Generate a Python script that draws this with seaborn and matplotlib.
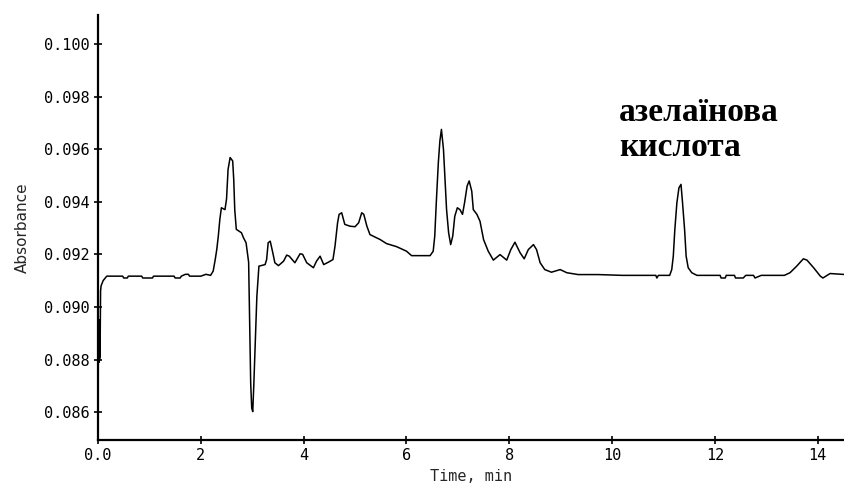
import numpy as np
import pandas as pd
import seaborn as sns
import matplotlib
matplotlib.use("Agg")
import matplotlib.pyplot as plt

time_min = [
    0.0, 0.008, 0.012, 0.016, 0.02, 0.025, 0.03, 0.035, 0.04, 0.05, 0.06, 0.10, 0.17,
    0.30, 0.48, 0.50, 0.57, 0.59, 0.85, 0.87, 1.06, 1.08, 1.48, 1.50, 1.60, 1.62,
    1.70, 1.76, 1.78, 2.0, 2.10, 2.19, 2.24, 2.28, 2.31, 2.34, 2.37, 2.40, 2.47,
    2.50, 2.53, 2.57, 2.62, 2.64, 2.66, 2.69, 2.79, 2.83, 2.88, 2.91, 2.93, 2.95,
    2.97, 2.99, 3.01, 3.03, 3.05, 3.09, 3.13, 3.25, 3.28, 3.31, 3.35, 3.40, 3.44,
    3.51, 3.61, 3.67, 3.72, 3.83, 3.93, 3.98, 4.06, 4.19, 4.25, 4.32, 4.39, 4.48,
    4.57, 4.61, 4.66, 4.69, 4.74, 4.80, 4.90, 5.00, 5.07, 5.13, 5.17, 5.23, 5.29,
    5.49, 5.61, 5.81, 6.00, 6.10, 6.46, 6.52, 6.55, 6.58, 6.62, 6.65, 6.68, 6.72,
    6.75, 6.78, 6.82, 6.86, 6.90, 6.94, 6.99, 7.04, 7.09, 7.13, 7.18, 7.22, 7.27,
    7.30, 7.37, 7.43, 7.50, 7.59, 7.69, 7.82, 7.95, 8.03, 8.11, 8.21, 8.29, 8.37,
    8.47, 8.53, 8.60, 8.69, 8.82, 8.99, 9.12, 9.34, 9.73, 10.2, 10.85, 10.87, 10.90,
    11.12, 11.16, 11.19, 11.22, 11.26, 11.30, 11.34, 11.37, 11.41, 11.44, 11.48, 11.55,
    11.65, 12.10, 12.12, 12.20, 12.22, 12.38, 12.40, 12.55, 12.60, 12.75, 12.78,
    12.90, 13.35, 13.46, 13.59, 13.72, 13.79, 13.92, 14.05, 14.10, 14.24, 14.55,
]
absorbance = [
    0.0849, 0.0895, 0.0879, 0.0895, 0.0879, 0.0895, 0.0880, 0.0895, 0.0881, 0.0906, 0.0908, 0.0910, 0.09117,
    0.09117, 0.09117, 0.09110, 0.09110, 0.09117, 0.09117, 0.09110, 0.09110, 0.09117, 0.09117, 0.09110, 0.09110, 0.09117,
    0.09124, 0.09124, 0.09117, 0.09117, 0.09124, 0.09120, 0.09136, 0.09180, 0.09218, 0.09269, 0.09333, 0.09377, 0.09370,
    0.09410, 0.09523, 0.09568, 0.09555, 0.09485, 0.09370, 0.09295, 0.09282, 0.09263, 0.09244, 0.09200, 0.09170, 0.08930,
    0.08710, 0.08615, 0.08602, 0.08700, 0.08810, 0.09040, 0.09155, 0.09161, 0.09180, 0.09244, 0.09250, 0.09206, 0.09168,
    0.09157, 0.09174, 0.09197, 0.09193, 0.09168, 0.09202, 0.09200, 0.09168, 0.09149, 0.09174, 0.09193, 0.09161, 0.09170,
    0.09180, 0.09231, 0.09320, 0.09352, 0.09358, 0.09314, 0.09307, 0.09305, 0.09320, 0.09358, 0.09352, 0.09307, 0.09275,
    0.09256, 0.09241, 0.09229, 0.09212, 0.09195, 0.09195, 0.09212, 0.09269, 0.09396, 0.09549, 0.09631, 0.09675, 0.09599,
    0.09485, 0.09370, 0.09282, 0.09237, 0.09269, 0.09345, 0.09377, 0.09370, 0.09352, 0.09396, 0.09460, 0.09479, 0.09440,
    0.09370, 0.09352, 0.09326, 0.09256, 0.09212, 0.09178, 0.09199, 0.09178, 0.09218, 0.09246, 0.09206, 0.09183, 0.09218,
    0.09237, 0.09218, 0.09168, 0.09142, 0.09132, 0.09142, 0.09130, 0.09123, 0.09123, 0.09120, 0.09120, 0.09110, 0.09120,
    0.09120, 0.09142, 0.09193, 0.09294, 0.09396, 0.09453, 0.09466, 0.09396, 0.09294, 0.09193, 0.09149, 0.09130,
    0.09120, 0.09120, 0.09110, 0.09110, 0.09120, 0.09120, 0.09110, 0.09110, 0.09120, 0.09120, 0.09110,
    0.09120, 0.09120, 0.09130, 0.09155, 0.09183, 0.09178, 0.09149, 0.09117, 0.09110, 0.09127, 0.09123,
]

x_ticks = [0, 2, 4, 6, 8, 10, 12, 14]
x_tick_labels = ["0.0", "2", "4", "6", "8", "10", "12", "14"]
y_ticks = [0.086, 0.088, 0.090, 0.092, 0.094, 0.096, 0.098, 0.100]
y_tick_labels = ["0.086", "0.088", "0.090", "0.092", "0.094", "0.096", "0.098", "0.100"]
annotation = "азелаїнова\nкислота"

df = pd.DataFrame({"Time, min": time_min, "Absorbance": absorbance})

sns.set_style("ticks")
plt.rcParams["font.family"] = ["DejaVu Sans Mono", "DejaVu Sans"]

fig = plt.figure(figsize=(8.45, 4.88), dpi=100)
ax = fig.add_axes([98 / 845, 48 / 488, 1 - 98 / 845, (440 - 15) / 488])

sns.lineplot(data=df, x="Time, min", y="Absorbance", ax=ax, color="black",
             linewidth=1.1, sort=False, estimator=None)

ax.set_xlim(0, 14.53)
ax.set_ylim(0.08494, 0.1011)
ax.set_xticks(x_ticks)
ax.set_xticklabels(x_tick_labels)
ax.set_yticks(y_ticks)
ax.set_yticklabels(y_tick_labels)

for side in ["top", "right"]:
    ax.spines[side].set_visible(False)
for side in ["left", "bottom"]:
    ax.spines[side].set_linewidth(1.6)
    ax.spines[side].set_color("black")

ax.tick_params(axis="both", direction="inout", length=6, width=1.2,
               labelsize=11, colors="black", pad=3)

ax.set_xlabel("Time, min", fontsize=11, family="DejaVu Sans Mono", labelpad=4)
ax.set_ylabel("Absorbance", fontsize=11, family="DejaVu Sans", labelpad=10)

fig.text(619 / 845, 1 - 97 / 488, annotation, ha="left", va="top",
         family="Liberation Serif", fontweight="bold", fontsize=24,
         linespacing=1.15, color="black")

fig.savefig("out.png", dpi=100)
